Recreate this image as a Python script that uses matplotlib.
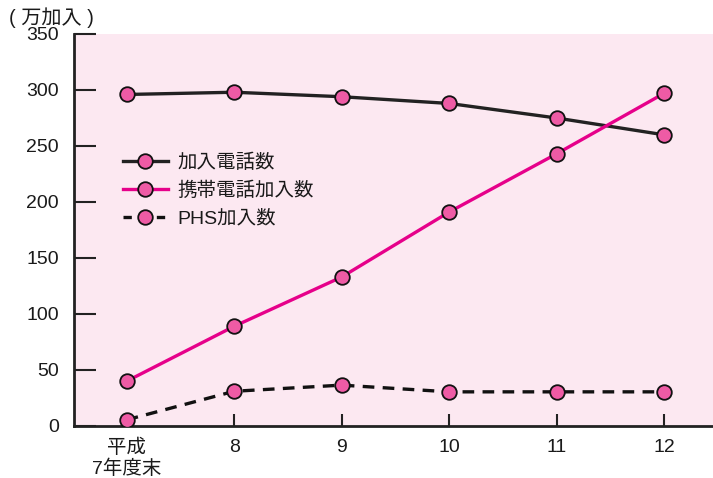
import matplotlib
matplotlib.use("Agg")
import matplotlib.pyplot as plt
from matplotlib.lines import Line2D

plt.rcParams['font.family'] = ['Liberation Sans', 'Noto Sans CJK JP']

years = ["平成\n7年度末", "8", "9", "10", "11", "12"]
fixed_line = [296, 298, 294, 288, 275, 260]
mobile = [40, 89, 133, 191, 243, 297]
phs = [5.5, 31, 36.5, 30.5, 30.5, 30.5]
series_labels = ["加入電話数", "携帯電話加入数", "PHS加入数"]
yticks = [0, 50, 100, 150, 200, 250, 300, 350]

bg = "#FCE8F1"
marker_face = "#EE5BA5"
pink_line = "#E6008A"
dark = "#222222"
fs = 14

fig = plt.figure(figsize=(7.13, 4.78), dpi=100)
ax = fig.add_axes([74 / 713, (478 - 426) / 478, (713 - 74) / 713, (426 - 34) / 478])
ax.set_facecolor(bg)

x = list(range(len(years)))
mk = dict(marker="o", markersize=10.5, markerfacecolor=marker_face,
          markeredgecolor="#111111", markeredgewidth=1.3)

ax.plot(x, fixed_line, color=dark, lw=2.4, **mk, zorder=3)
ax.plot(x, mobile, color=pink_line, lw=2.4, **mk, zorder=3)
ax.plot(x, phs, color="#111111", lw=2.4, linestyle=(0, (3.5, 2.5)), **mk, zorder=3)

ax.set_xlim(-0.49, 5.456)
ax.set_ylim(0, 350)
ax.set_yticks(yticks)
ax.set_xticks(x)
ax.set_xticklabels(years, fontsize=fs, linespacing=1.2)
ax.tick_params(axis='y', direction='in', length=16, width=1.5, color=dark,
               labelsize=fs, pad=11, labelcolor="#1a1a1a")
ax.tick_params(axis='x', direction='in', length=9, width=1.5, color=dark,
               labelsize=fs, pad=9, labelcolor="#1a1a1a")
for s in ("top", "right"):
    ax.spines[s].set_visible(False)
for s in ("left", "bottom"):
    ax.spines[s].set_linewidth(2)
    ax.spines[s].set_color(dark)

fig.text(9 / 713, 1 - 18 / 478, "( 万加入 )", fontsize=fs + 0.5, va="center", ha="left",
         color="#1a1a1a")

handles = [
    Line2D([], [], color=dark, lw=2.4, **mk),
    Line2D([], [], color=pink_line, lw=2.4, **mk),
    Line2D([], [], color="#111111", lw=2.4, linestyle=(0, (2.5, 2.5)), **mk),
]
ax.legend(handles, series_labels, loc="upper left",
          bbox_to_anchor=((115 - 74) / 639, (426 - 146) / 392),
          frameon=False, fontsize=fs, handlelength=2.3, handletextpad=0.5,
          labelspacing=0.5, borderaxespad=0, labelcolor="#1a1a1a")

fig.savefig("out.png", dpi=100, facecolor="white")
